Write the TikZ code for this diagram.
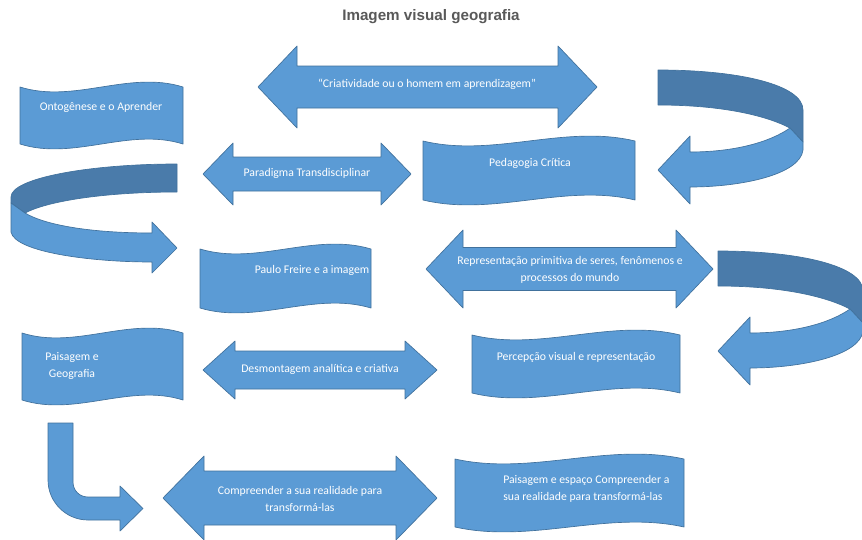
\documentclass[tikz,border=0pt]{standalone}
\usepackage{fontspec}
\setmainfont{Carlito}
\newfontfamily\titlefont{Liberation Sans}
\definecolor{boxfill}{HTML}{5B9BD5}
\definecolor{boxline}{HTML}{41719C}
\definecolor{backfill}{HTML}{4A7BAA}
\definecolor{titlegray}{HTML}{595959}
\tikzset{
  shapestyle/.style={fill=boxfill, draw=boxline, line width=0.5pt, line join=round},
  backstyle/.style={fill=backfill, draw=boxline, line width=0.5pt, line join=round},
  lbl/.style={text=white, font=\fontsize{8.8}{12.5}\selectfont, align=center, inner sep=0pt},
}
\newcommand{\wavebox}[4]{%
  \draw[shapestyle] (#1,#2) .. controls ({#1+(#3-#1)/3},{#2+17}) and ({#1+2*(#3-#1)/3},{#2-17}) .. (#3,#2)
    -- (#3,#4) .. controls ({#1+2*(#3-#1)/3},{#4-17}) and ({#1+(#3-#1)/3},{#4+17}) .. (#1,#4) -- cycle;}
\newcommand{\dblarrow}[6]{%
  \draw[shapestyle] (#1,#3) -- ({#1+#4},{#3-#5}) -- ({#1+#4},{#3-#6}) -- ({#2-#4},{#3-#6})
    -- ({#2-#4},{#3-#5}) -- (#2,#3) -- ({#2-#4},{#3+#5}) -- ({#2-#4},{#3+#6})
    -- ({#1+#4},{#3+#6}) -- ({#1+#4},{#3+#5}) -- cycle;}
\newcommand{\uturnleft}{%
  \draw[backstyle] (658,70) .. controls (740,70) and (803,85) .. (803,110) -- (803,142) -- (790,128)
    .. controls (765,115) and (720,105) .. (658,105) -- cycle;
  \draw[shapestyle] (790,128) -- (803,142) -- (803,150) .. controls (800,175) and (740,187) .. (690,187)
    -- (690,204) -- (658,170) -- (690,136) -- (690,152) .. controls (735,152) and (770,142) .. (790,128) -- cycle;}
\begin{document}
\begin{tikzpicture}[x=0.75pt,y=-0.75pt]
\useasboundingbox (0,0) rectangle (862,539);
\fill[white] (0,0) rectangle (862,539);

\node[font=\titlefont\bfseries\fontsize{11.4}{13}\selectfont, text=titlegray] (title) at (431,17) {Imagem visual geografia};

% wave boxes
\wavebox{20}{87}{183}{144}
\wavebox{423}{141}{635}{200}
\wavebox{200}{249}{371}{308}
\wavebox{22}{333}{183}{400}
\wavebox{472}{335}{680}{393}
\wavebox{455}{459}{684}{527}

% double arrows
\dblarrow{258}{597}{87}{39}{41}{21}
\dblarrow{203}{411}{174}{30}{31}{17}
\dblarrow{426}{713}{269}{37}{39}{21.5}
\dblarrow{203}{437}{370}{32}{29}{19}
\dblarrow{163}{437}{498}{41}{42}{27}

% U-turn arrows
\uturnleft
\begin{scope}[shift={(60,181)}]
\uturnleft
\end{scope}
\draw[backstyle] (177,164) .. controls (90,164) and (11,178) .. (11,197) -- (11,203) -- (25,213)
  .. controls (50,200) and (110,192) .. (177,192) -- cycle;
\draw[shapestyle] (25,213) -- (11,203) -- (11,232) .. controls (15,252) and (90,262) .. (152,262)
  -- (152,273) -- (177,248) -- (152,222) -- (152,233) .. controls (90,233) and (45,225) .. (25,213) -- cycle;

% bent arrow
\draw[shapestyle] (48,423) -- (73,423) -- (73,482) .. controls (73,490.5) and (79.5,497) .. (88,497)
  -- (120,497) -- (120,486) -- (143,508.5) -- (120,531) -- (120,520) -- (88,520)
  .. controls (66,520) and (48,502) .. (48,480) -- cycle;

% labels
\node[lbl] (ont) at (101,107) {Ontogênese e o Aprender};
\node[lbl] (ped) at (530,163) {Pedagogia Crítica};
\node[lbl] (pau) at (312,270) {Paulo Freire e a imagem};
\node[lbl] (pai) at (72,366) {Paisagem e\\Geografia};
\node[lbl] (per) at (576,357) {Percepção visual e representação};
\node[lbl, align=left, anchor=west] (esp) at (503,489) {Paisagem e espaço Compreender a\\sua realidade para transformá-las};
\node[lbl] (cri) at (427,84) {“Criatividade ou o homem em aprendizagem”};
\node[lbl] (par) at (307,173) {Paradigma Transdisciplinar};
\node[lbl] (rep) at (570,270) {Representação primitiva de seres, fenômenos e\\processos do mundo};
\node[lbl] (des) at (320,369) {Desmontagem analítica e criativa};
\node[lbl] (com) at (300,499) {Compreender a sua realidade para\\transformá-las};
\end{tikzpicture}
\end{document}
